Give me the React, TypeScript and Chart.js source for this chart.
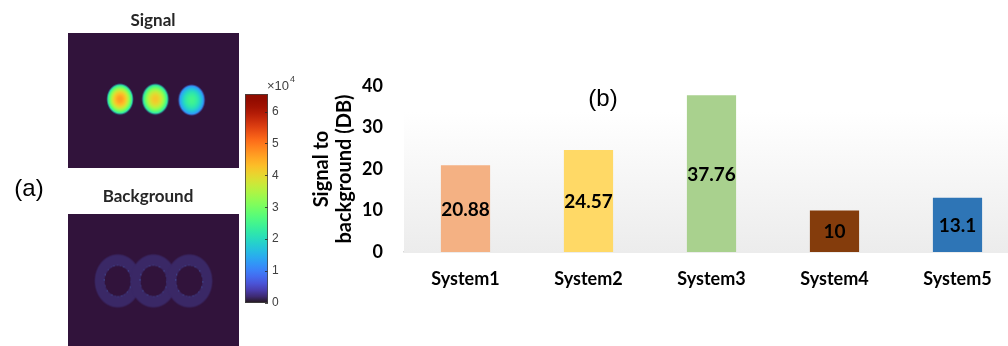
import React, { useEffect, useRef } from 'react';
import { Chart, registerables } from 'chart.js';

Chart.register(...registerables);

// ---------- data ----------
const categories = ['System1', 'System2', 'System3', 'System4', 'System5'];
const sbrValues = [20.88, 24.57, 37.76, 10, 13.1];
const barColors = ['#F4B183', '#FFD966', '#A9D18E', '#843C0C', '#2E75B6'];
const yTickValues = [0, 10, 20, 30, 40];
const yAxisTitle = ['Signal to', 'background (DB)'];

// colour bar (x 10^4)
const colorbarTicks = [0, 1, 2, 3, 4, 5, 6];
const colorbarMax = 6.55;

// signal image: spot centres (image px) and intensities (x 10^4)
const spotX = [49.5, 87.5, 126.5];
const spotY = [66, 66, 67];
const spotPeak = [4.65, 4.2, 2.5];
const spotEdge = [2.1, 2.1, 1.15];

// background image: ring centres (image px)
const ringX = [47, 85.5, 124];
const ringY = [67, 67, 67];

// ---------- helpers ----------
function turbo(t: number): [number, number, number] {
  t = Math.min(1, Math.max(0, t));
  const r = 0.13572138 + t * (4.6153926 + t * (-42.66032258 + t * (132.13108234 + t * (-152.94239396 + t * 59.28637943))));
  const g = 0.09140261 + t * (2.19418839 + t * (4.84296658 + t * (-14.18503333 + t * (4.27729857 + t * 2.82956604))));
  const b = 0.1066733 + t * (12.64194608 + t * (-60.58204836 + t * (110.36276771 + t * (-89.90310912 + t * 27.34824973))));
  const c = (v: number) => Math.round(255 * Math.min(1, Math.max(0, v)));
  return [c(r), c(g), c(b)];
}
const IMG_BG = '#31133b';

function makeBlob(peak: number, edge: number): HTMLCanvasElement {
  const rx = 12.5, ry = 14.5;
  const w = 32, h = 36;
  const cv = document.createElement('canvas');
  cv.width = w; cv.height = h;
  const cx = cv.getContext('2d')!;
  const img = cx.createImageData(w, h);
  for (let y = 0; y < h; y++) {
    for (let x = 0; x < w; x++) {
      const dx = (x + 0.5 - w / 2) / rx;
      const dy = (y + 0.5 - h / 2) / ry;
      const r = Math.sqrt(dx * dx + dy * dy);
      const rr = Math.min(r, 1.12);
      const v = peak - (peak - edge) * rr * rr;
      const a = Math.min(1, Math.max(0, (1.1 - r) / 0.14));
      const [R, G, B] = turbo(v / colorbarMax);
      const i = (y * w + x) * 4;
      img.data[i] = R; img.data[i + 1] = G; img.data[i + 2] = B; img.data[i + 3] = Math.round(a * 255);
    }
  }
  cx.putImageData(img, 0, 0);
  return cv;
}

function makeRing(): HTMLCanvasElement {
  const rxo = 23, ryo = 26.5, rxi = 13, ryi = 15;
  const w = 50, h = 57;
  const cv = document.createElement('canvas');
  cv.width = w; cv.height = h;
  const cx = cv.getContext('2d')!;
  const img = cx.createImageData(w, h);
  const ringCol = [58, 40, 102];
  const hiCol = [75, 140, 240];
  for (let y = 0; y < h; y++) {
    for (let x = 0; x < w; x++) {
      const px = x + 0.5 - w / 2, py = y + 0.5 - h / 2;
      const dO = Math.sqrt((px / rxo) ** 2 + (py / ryo) ** 2);
      const dI = Math.sqrt((px / rxi) ** 2 + (py / ryi) ** 2);
      const aO = Math.min(1, Math.max(0, (1.03 - dO) / 0.06));
      const aI = Math.min(1, Math.max(0, (dI - 0.98) / 0.06));
      let a = Math.min(aO, aI);
      let col = ringCol.slice();
      if (dI > 0.97 && dI < 1.1) {
        const ang = Math.atan2(py, px);
        const s = Math.max(0, Math.sin(ang * 23) * Math.sin(ang * 7 + 1));
        const k = s * Math.max(0, 1 - Math.abs(dI - 1.03) / 0.06) * 0.75;
        col = col.map((c, j) => Math.round(c + (hiCol[j] - c) * k));
      }
      const i = (y * w + x) * 4;
      img.data[i] = col[0]; img.data[i + 1] = col[1]; img.data[i + 2] = col[2]; img.data[i + 3] = Math.round(a * 255);
    }
  }
  cx.putImageData(img, 0, 0);
  return cv;
}

const LATO = 'Lato, "Open Sans", sans-serif';
const ARIAL = '"Liberation Sans", Arial, sans-serif';

// ---------- plugins ----------
const plotBgPlugin = {
  id: 'plotBg',
  beforeDatasetsDraw(chart: any) {
    const { ctx, chartArea } = chart;
    const top = 112;
    const g = ctx.createLinearGradient(0, top, 0, chartArea.bottom);
    g.addColorStop(0, '#ffffff');
    g.addColorStop(1, '#ececec');
    ctx.save();
    ctx.fillStyle = g;
    ctx.fillRect(chartArea.left, top, chartArea.right - chartArea.left, chartArea.bottom - top);
    ctx.restore();
  },
};

const valueLabelPlugin = {
  id: 'valueLabels',
  afterDatasetsDraw(chart: any) {
    const { ctx } = chart;
    const meta = chart.getDatasetMeta(0);
    ctx.save();
    ctx.font = `bold 19px ${LATO}`;
    ctx.textAlign = 'center';
    ctx.textBaseline = 'middle';
    ctx.fillStyle = '#000';
    meta.data.forEach((bar: any, i: number) => {
      const { x, y, base } = bar.getProps(['x', 'y', 'base'], true);
      ctx.fillText(String(sbrValues[i]), x, (y + base) / 2 + 1);
    });
    ctx.restore();
  },
};

const annotationPlugin = {
  id: 'annotations',
  afterDraw(chart: any) {
    const { ctx } = chart;
    ctx.save();
    ctx.fillStyle = '#000';
    ctx.textAlign = 'center';
    ctx.textBaseline = 'middle';
    ctx.font = `24px ${ARIAL}`;
    ctx.fillText('(a)', 29, 189);
    ctx.fillText('(b)', 603, 99);
    ctx.fillStyle = '#262626';
    ctx.font = `bold 17px ${LATO}`;
    ctx.fillText('Signal', 153, 21);
    ctx.fillText('Background', 148, 197);
    ctx.restore();
  },
};

const imgBgPlugin = {
  id: 'imgBg',
  beforeDraw(chart: any) {
    const { ctx, width, height } = chart;
    ctx.save();
    ctx.fillStyle = IMG_BG;
    ctx.fillRect(0, 0, width, height);
    ctx.restore();
  },
};

const colorbarDecorPlugin = {
  id: 'cbDecor',
  afterDatasetsDraw(chart: any) {
    const { ctx, chartArea } = chart;
    const ys = chart.scales.y;
    ctx.save();
    ctx.strokeStyle = '#262626';
    ctx.lineWidth = 0.8;
    colorbarTicks.forEach((v) => {
      const y = Math.round(ys.getPixelForValue(v)) + 0.5;
      ctx.beginPath();
      ctx.moveTo(chartArea.right - 3, y);
      ctx.lineTo(chartArea.right, y);
      ctx.stroke();
    });
    ctx.strokeStyle = '#444';
    ctx.strokeRect(chartArea.left + 0.5, chartArea.top + 0.5, chartArea.right - chartArea.left - 1, chartArea.bottom - chartArea.top - 1);
    ctx.fillStyle = '#404040';
    ctx.textAlign = 'left';
    ctx.textBaseline = 'middle';
    ctx.font = `13px ${ARIAL}`;
    const base = '\u00d710';
    const x0 = chartArea.right - 1;
    ctx.fillText(base, x0, 11);
    const wBase = ctx.measureText(base).width;
    ctx.font = `9px ${ARIAL}`;
    ctx.fillText('4', x0 + wBase + 1, 5);
    ctx.restore();
  },
};

export default function App() {
  const mainRef = useRef<HTMLCanvasElement>(null);
  const sigRef = useRef<HTMLCanvasElement>(null);
  const bgRef = useRef<HTMLCanvasElement>(null);
  const cbRef = useRef<HTMLCanvasElement>(null);

  useEffect(() => {
    const charts: Chart[] = [];

    charts.push(
      new Chart(mainRef.current!, {
        type: 'bar',
        data: {
          labels: categories,
          datasets: [
            {
              data: sbrValues,
              backgroundColor: barColors,
              borderWidth: 0,
              barPercentage: 0.4,
              categoryPercentage: 1,
            },
          ],
        },
        options: {
          responsive: false,
          maintainAspectRatio: false,
          animation: false,
          layout: { padding: { left: 309, top: 86, right: 21, bottom: 0 } },
          plugins: { legend: { display: false }, tooltip: { enabled: false } },
          scales: {
            x: {
              grid: { display: false, drawTicks: false },
              border: { display: true, color: '#d9d9d9', width: 1.5 },
              ticks: { color: '#000', font: { family: LATO, weight: 'bold', size: 18 }, padding: 16 },
              afterFit: (s: any) => { s.height = 94; },
            },
            y: {
              min: 0,
              max: 40,
              afterBuildTicks: (s: any) => { s.ticks = yTickValues.map((v) => ({ value: v })); },
              ticks: { color: '#000', font: { family: LATO, weight: 'bold', size: 18 }, padding: 21 },
              grid: { display: false, drawTicks: false },
              border: { display: false },
              title: {
                display: true,
                text: yAxisTitle,
                color: '#000',
                font: { family: LATO, weight: 'bold', size: 20, lineHeight: 1.15 },
                padding: { top: 1, bottom: 0 },
              },
              afterFit: (s: any) => { s.width = 95; },
            },
          },
        } as any,
        plugins: [plotBgPlugin, valueLabelPlugin, annotationPlugin],
      })
    );

    charts.push(
      new Chart(sigRef.current!, {
        type: 'scatter',
        data: {
          datasets: [
            {
              data: spotX.map((x, i) => ({ x, y: spotY[i] })),
              pointStyle: spotPeak.map((p, i) => makeBlob(p, spotEdge[i])) as any,
              pointRadius: 5,
            },
          ],
        },
        options: {
          responsive: false,
          maintainAspectRatio: false,
          animation: false,
          layout: { padding: 0 },
          plugins: { legend: { display: false }, tooltip: { enabled: false } },
          scales: {
            x: { display: false, min: 0, max: 171 },
            y: { display: false, min: 0, max: 135, reverse: true },
          },
        } as any,
        plugins: [imgBgPlugin],
      })
    );

    const ring = makeRing();
    charts.push(
      new Chart(bgRef.current!, {
        type: 'scatter',
        data: {
          datasets: [
            {
              data: ringX.map((x, i) => ({ x, y: ringY[i] })),
              pointStyle: ring as any,
              pointRadius: 5,
            },
          ],
        },
        options: {
          responsive: false,
          maintainAspectRatio: false,
          animation: false,
          layout: { padding: 0 },
          plugins: { legend: { display: false }, tooltip: { enabled: false } },
          scales: {
            x: { display: false, min: 0, max: 171 },
            y: { display: false, min: 0, max: 132, reverse: true },
          },
        } as any,
        plugins: [imgBgPlugin],
      })
    );

    charts.push(
      new Chart(cbRef.current!, {
        type: 'bar',
        data: {
          labels: [''],
          datasets: [
            {
              data: [colorbarMax],
              borderWidth: 0,
              barPercentage: 1,
              categoryPercentage: 1,
              backgroundColor: (c: any) => {
                const area = c.chart.chartArea;
                if (!area) return '#888';
                const g = c.chart.ctx.createLinearGradient(0, area.bottom, 0, area.top);
                for (let k = 0; k <= 32; k++) {
                  const [r, gg, b] = turbo(k / 32);
                  g.addColorStop(k / 32, `rgb(${r},${gg},${b})`);
                }
                return g;
              },
            },
          ],
        },
        options: {
          responsive: false,
          maintainAspectRatio: false,
          animation: false,
          layout: { padding: { left: 15, top: 19, bottom: 12, right: 0 } },
          plugins: { legend: { display: false }, tooltip: { enabled: false } },
          scales: {
            x: { display: false },
            y: {
              position: 'right',
              min: 0,
              max: colorbarMax,
              afterBuildTicks: (s: any) => { s.ticks = colorbarTicks.map((v) => ({ value: v })); },
              ticks: { color: '#404040', font: { family: ARIAL, size: 12 }, padding: 4 },
              grid: { display: false, drawTicks: false },
              border: { display: false },
              afterFit: (s: any) => { s.width = 42; },
            },
          },
        } as any,
        plugins: [colorbarDecorPlugin],
      })
    );

    return () => charts.forEach((c) => c.destroy());
  }, []);

  return (
    <div style={{ position: 'fixed', left: 0, top: 0, width: 1008, height: 346, overflow: 'hidden', background: '#fff' }}>
      <canvas ref={mainRef} width={1040} height={346} style={{ position: 'absolute', left: 0, top: 0, width: 1040, height: 346 }} />
      <canvas ref={sigRef} width={171} height={135} style={{ position: 'absolute', left: 68, top: 33, width: 171, height: 135 }} />
      <canvas ref={bgRef} width={171} height={132} style={{ position: 'absolute', left: 68, top: 214, width: 171, height: 132 }} />
      <canvas ref={cbRef} width={80} height={240} style={{ position: 'absolute', left: 230, top: 75, width: 80, height: 240 }} />
    </div>
  );
}
